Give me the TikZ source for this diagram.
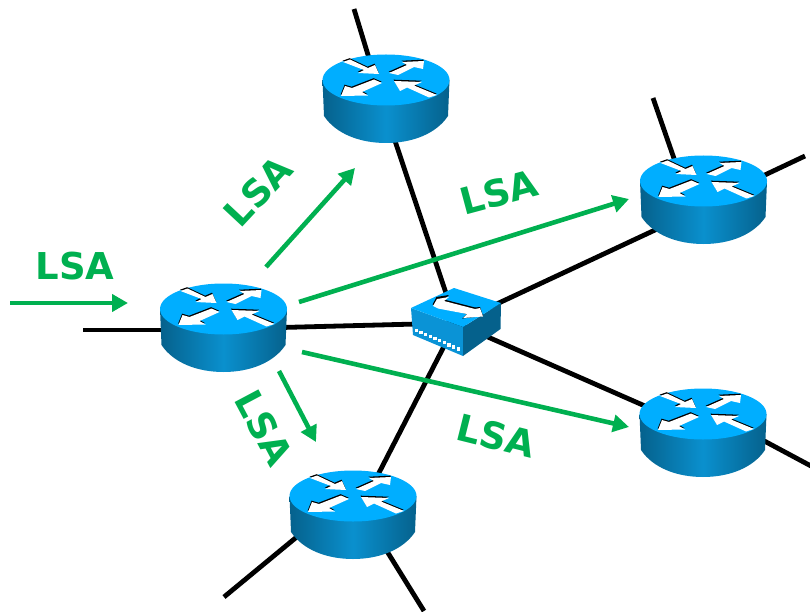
\documentclass[tikz,border=0pt]{standalone}
\usepackage{fontspec}
\setmainfont{DejaVu Sans}
\usetikzlibrary{arrows.meta}
\definecolor{lsagreen}{HTML}{00B050}
\definecolor{rtop}{HTML}{00AEFF}
\definecolor{redge}{HTML}{05618C}
\definecolor{rmid}{HTML}{0A90CE}
\definecolor{swfront}{HTML}{0A93D6}
\definecolor{swside}{HTML}{05618C}
\tikzset{
  wire/.style={black,line width=4.8pt},
  flood/.style={lsagreen,line width=4.6pt,-{Triangle[length=16pt,width=17pt]}},
  lsalabel/.style={text=lsagreen,font=\fontsize{37}{37}\selectfont\bfseries,inner sep=0pt},
  router/.pic={
    \shade[left color=redge,right color=redge,middle color=rmid]
      (-63.5,0) -- (-62,36) .. controls (-50,54) and (-26,63) .. (0,63)
      .. controls (26,63) and (50,54) .. (62,36) -- (63.5,0) -- cycle;
    \fill[rtop] (0,0) ellipse [x radius=63.5,y radius=25.5];
    \foreach \dx/\dy/\col in {-0.4/-1.3/black,0/0/white}{
      \begin{scope}[shift={(\dx,\dy)}]
      \fill[\col] (-43,-18) -- (-36,-20.5) -- (-18,-12) -- (-11,-15) -- (-7,-6) -- (-28,-7) -- (-22,-10) -- cycle;
      \fill[\col] (3,-7) -- (12,-5) -- (28,-13) -- (37,-11) -- (38,-19) -- (16,-18) -- (21,-15) -- cycle;
      \fill[\col] (-45,16) -- (-41,6) -- (-34,8) -- (-12,-0.5) -- (-4,3) -- (-24,12) -- (-18,15.5) -- cycle;
      \fill[\col] (8,1) -- (36,2) -- (28,5.5) -- (51,15) -- (43,17.5) -- (21,7.5) -- (14,11) -- cycle;
      \end{scope}}
  },
}
\begin{document}
\begin{tikzpicture}[x=1pt,y=-1pt]
\useasboundingbox (0,0) rectangle (810,612);
\coordinate (rl) at (223.5,309);
\coordinate (rt) at (386,80);
\coordinate (rr) at (703.5,181);
\coordinate (rb) at (703,414);
\coordinate (rs) at (353,496);
\coordinate (sw) at (456,323);
% wire ends
\coordinate (tl) at (83,330);
\coordinate (tl2) at (175,330);
\coordinate (rlw) at (223,329);
\coordinate (tt) at (354,9);
\coordinate (tt2) at (372,68);
\coordinate (rtw) at (388,120);
\coordinate (tr1) at (653,98);
\coordinate (tr3) at (678,170);
\coordinate (tr2) at (805,156);
\coordinate (tr4) at (750,182);
\coordinate (rrw) at (670,223);
\coordinate (tb) at (811,466);
\coordinate (tb2) at (740,428);
\coordinate (rbw) at (670,417);
\coordinate (ts1) at (224,597);
\coordinate (ts3) at (310,526);
\coordinate (ts2) at (424,611);
\coordinate (ts4) at (380,540);
\coordinate (rsw) at (365,500);
% wires
\draw[wire] (tl) -- (tl2);
\draw[wire] (tt) -- (tt2);
\draw[wire] (tr1) -- (tr3);
\draw[wire] (tr2) -- (tr4);
\draw[wire] (tb) -- (tb2);
\draw[wire] (ts1) -- (ts3);
\draw[wire] (ts2) -- (ts4);
\draw[wire] (rlw) -- (sw);
\draw[wire] (rtw) -- (sw);
\draw[wire] (rrw) -- (sw);
\draw[wire] (rbw) -- (sw);
\draw[wire] (rsw) -- (sw);
% routers
\pic at (rl) {router};
\pic at (rt) {router};
\pic at (rr) {router};
\pic at (rb) {router};
\pic at (rs) {router};
% switch
\fill[swfront] (411,308) -- (463,327) -- (463,356) -- (413,335) -- cycle;
\fill[swside] (463,327) -- (501,303) -- (500.5,329) -- (463,356) -- cycle;
\fill[rtop] (411,308) -- (454,288) -- (501,303) -- (463,327) -- cycle;
\fill[black] (432.5,304.5) -- (436.5,297) -- (449,295) -- (444,299.5) -- (475,307.5) -- (480,307) -- (483,316) -- (462,318.5) -- (467,314) -- (438,307) -- cycle;
\fill[white] (433,306) -- (437,299) -- (449,297) -- (444,301) -- (475,309) -- (480,308) -- (483,316.5) -- (463,318) -- (467,314) -- (438,308.5) -- cycle;
\foreach \i in {0,...,9}{
  \fill[white] ({414.5+\i*4.7},{328.5+\i*2.1}) rectangle ++(3.3,3.3);
}
% flooding arrows
\coordinate (a1s) at (10,303); \coordinate (a1e) at (128,303);
\coordinate (a2s) at (266,267); \coordinate (a2e) at (355,168);
\coordinate (a3s) at (299,302); \coordinate (a3e) at (629,199);
\coordinate (a4s) at (302,352); \coordinate (a4e) at (629,427);
\coordinate (a5s) at (279,371); \coordinate (a5e) at (316,442);
\draw[flood] (a1s) -- (a1e);
\draw[flood] (a2s) -- (a2e);
\draw[flood] (a3s) -- (a3e);
\draw[flood] (a4s) -- (a4e);
\draw[flood] (a5s) -- (a5e);
% labels
\node[lsalabel] (l1) at (75,266) {LSA};
\node[lsalabel,rotate=47] (l2) at (258,191) {LSA};
\node[lsalabel,rotate=15] (l3) at (499,192) {LSA};
\node[lsalabel,rotate=-14] (l4) at (496,436) {LSA};
\node[lsalabel,rotate=-62] (l5) at (264,428) {LSA};
\end{tikzpicture}
\end{document}
